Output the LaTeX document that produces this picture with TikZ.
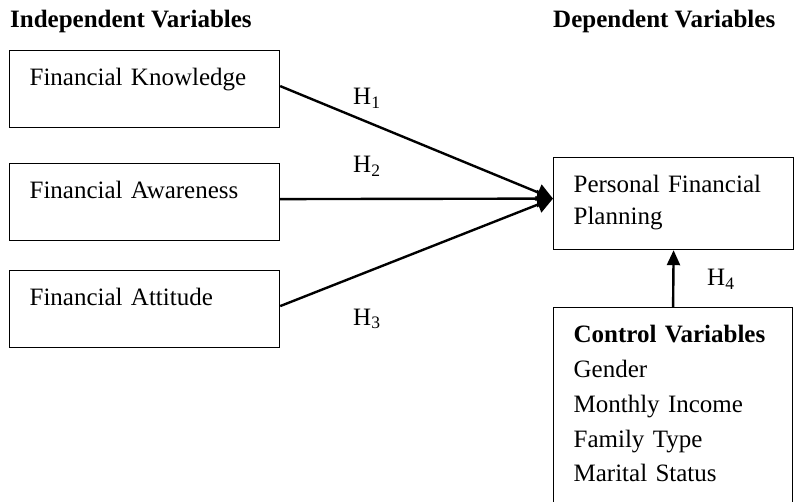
\documentclass[tikz,border=0pt]{standalone}
\usepackage{fontspec}
\setmainfont{Liberation Serif}
\usetikzlibrary{arrows.meta}

\begin{document}
\begin{tikzpicture}[x=1pt,y=-1pt,
    font=\fontsize{25}{29}\selectfont,
    varbox/.style={draw,line width=1.2pt,anchor=north west,align=left,
      inner xsep=20pt,inner ysep=0pt,text height=35pt},
    heading/.style={font=\fontsize{25}{29}\selectfont\bfseries,
      inner sep=0pt,anchor=base west},
    hyp/.style={inner sep=0pt,anchor=base west},
    link/.style={line width=2.4pt,-{Triangle[length=16pt,width=17pt]}}]
    % Frame
    \useasboundingbox (0,0) rectangle (797,502);
    % Headings
    \node[heading] (indep) at (10,28) {Independent Variables};
    \node[heading] (dep) at (553,28) {Dependent Variables};
    % Boxes
    \node[varbox,text width=230pt,text depth=42pt] (know) at (9,50)
      {Financial Knowledge};
    \node[varbox,text width=230pt,text depth=42pt] (aware) at (9,163)
      {Financial Awareness};
    \node[varbox,text width=230pt,text depth=42pt] (att) at (9,270)
      {Financial Attitude};
    \node[varbox,text width=200pt,text depth=57pt,
      font=\fontsize{25}{32}\selectfont] (plan) at (553,157)
      {Personal Financial\\Planning};
    \node[varbox,text width=199pt,text depth=175pt,
      font=\fontsize{25}{34.8}\selectfont] (ctrl) at (553,307)
      {\textbf{Control Variables}\\Gender\\Monthly Income\\
       Family Type\\Marital Status};
    % Arrows
    \coordinate (tip) at ([yshift=5pt]plan.west);
    \draw[link] ([yshift=3pt]know.east) -- (tip);
    \draw[link] ([yshift=3pt]aware.east) -- (tip);
    \draw[link] ([yshift=3pt]att.east) -- (tip);
    \draw[link,-{Triangle[length=15pt,width=13pt]}] (ctrl.north) -- (plan.south);
    % Hypotheses
    \node[hyp] (h1) at (353,105) {H\textsubscript{1}};
    \node[hyp] (h2) at (353,173) {H\textsubscript{2}};
    \node[hyp] (h3) at (353,325) {H\textsubscript{3}};
    \node[hyp] (h4) at (707,286) {H\textsubscript{4}};
\end{tikzpicture}
\end{document}
